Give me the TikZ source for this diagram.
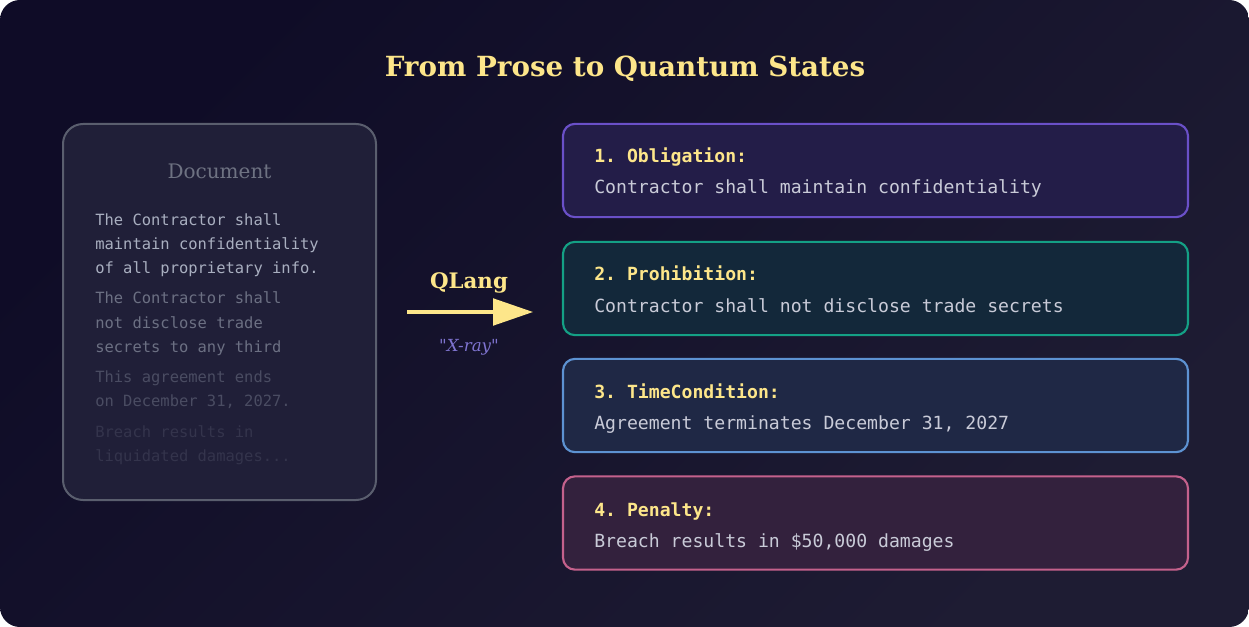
\documentclass[tikz,border=0pt]{standalone}
\usepackage{fontspec}
\setmainfont{DejaVu Serif}
\setmonofont{DejaVu Sans Mono}
\usepackage{xcolor}
\usetikzlibrary{arrows.meta,positioning}
\definecolor{bgtop}{HTML}{0F0C27}
\definecolor{bgbot}{HTML}{1E1C33}
\definecolor{gold}{HTML}{FDE68A}
\definecolor{docfill}{HTML}{201F38}
\definecolor{docline}{HTML}{5A5E6E}
\definecolor{doctitle}{HTML}{6E7282}
\definecolor{txtA}{HTML}{A9AFC0}
\definecolor{txtB}{HTML}{6C7083}
\definecolor{txtC}{HTML}{4A4C62}
\definecolor{txtD}{HTML}{34344C}
\definecolor{xray}{HTML}{7F74D0}
\definecolor{bodytxt}{HTML}{C9CBD8}
\definecolor{oblline}{HTML}{6A50C8}
\definecolor{oblfill}{HTML}{231D48}
\definecolor{proline}{HTML}{14A085}
\definecolor{profill}{HTML}{13283A}
\definecolor{timline}{HTML}{5D92D2}
\definecolor{timfill}{HTML}{1F2845}
\definecolor{penline}{HTML}{C4618C}
\definecolor{penfill}{HTML}{33213D}

\begin{document}
\begin{tikzpicture}[
  x=0.75pt, y=-0.75pt,
  stbox/.style={draw, line width=1.6pt, rounded corners=9pt,
                minimum width=468.75pt, minimum height=70pt},
  dochead/.style={anchor=base, inner sep=0pt, font=\fontsize{15pt}{18pt}\selectfont, text=doctitle},
  doctxt/.style={anchor=base west, inner sep=0pt, font=\fontsize{11.6pt}{14pt}\selectfont\ttfamily},
  sthead/.style={anchor=base west, inner sep=0pt, font=\fontsize{13.6pt}{16pt}\selectfont\ttfamily\bfseries, text=gold},
  stbody/.style={anchor=base west, inner sep=0pt, font=\fontsize{13.6pt}{16pt}\selectfont\ttfamily, text=bodytxt},
  arr/.style={-{Triangle[length=30pt, width=20pt]}, line width=2.4pt, gold},
]
  % Background
  \fill[white] (0,0) rectangle (1249,627);
  \shade[rounded corners=15pt, top color=bgtop, bottom color=bgbot, shading angle=45]
    (0,0) rectangle (1249,627);

  % Title
  \node[anchor=base, inner sep=0pt, font=\fontsize{20.8pt}{24pt}\selectfont\bfseries, text=gold]
    (title) at (625,77) {From Prose to Quantum States};

  % Source document
  \node[draw=docline, fill=docfill, line width=1.5pt, rounded corners=15pt,
        minimum width=234.75pt, minimum height=282pt] (doc) at (219.5,312) {};
  \node[dochead] (doclbl) at (219.5,179) {Document};
  \node[doctxt, text=txtA] (p1a) at (95,226) {The Contractor shall};
  \node[doctxt, text=txtA] (p1b) at (95,250) {maintain confidentiality};
  \node[doctxt, text=txtA] (p1c) at (95,274) {of all proprietary info.};
  \node[doctxt, text=txtB] (p2a) at (95,304) {The Contractor shall};
  \node[doctxt, text=txtB] (p2b) at (95,328) {not disclose trade};
  \node[doctxt, text=txtB] (p2c) at (95,352) {secrets to any third};
  \node[doctxt, text=txtC] (p3a) at (95,382) {This agreement ends};
  \node[doctxt, text=txtC] (p3b) at (95,406) {on December 31, 2027.};
  \node[doctxt, text=txtD] (p4a) at (95,437) {Breach results in};
  \node[doctxt, text=txtD] (p4b) at (95,461) {liquidated damages...};

  % Transform arrow
  \coordinate (arrS) at (407,312);
  \coordinate (arrE) at (533,312);
  \draw[arr] (arrS) -- (arrE);
  \node[anchor=base, inner sep=0pt, font=\fontsize{16pt}{19pt}\selectfont\bfseries, text=gold]
    (qlang) at (469,289) {QLang};
  \node[anchor=base, inner sep=0pt, font=\fontsize{12.5pt}{15pt}\selectfont\itshape, text=xray]
    (xr) at (469,351) {\textquotedbl X-ray\textquotedbl};

  % Extracted states
  \node[stbox, draw=oblline, fill=oblfill] (obl) at (875.5,170.5) {};
  \node[sthead] (oblh) at (594,163) {1. Obligation:};
  \node[stbody] (oblb) at (594,194) {Contractor shall maintain confidentiality};

  \node[stbox, draw=proline, fill=profill] (pro) at (875.5,288.5) {};
  \node[sthead] (proh) at (594,281) {2. Prohibition:};
  \node[stbody] (prob) at (594,312) {Contractor shall not disclose trade secrets};

  \node[stbox, draw=timline, fill=timfill] (tim) at (875.5,405.5) {};
  \node[sthead] (timh) at (594,398) {3. TimeCondition:};
  \node[stbody] (timb) at (594,429) {Agreement terminates December 31, 2027};

  \node[stbox, draw=penline, fill=penfill] (pen) at (875.5,523) {};
  \node[sthead] (penh) at (594,516) {4. Penalty:};
  \node[stbody] (penb) at (594,547) {Breach results in \$50,000 damages};

  \useasboundingbox (0,0) rectangle (1249,627);
\end{tikzpicture}
\end{document}
